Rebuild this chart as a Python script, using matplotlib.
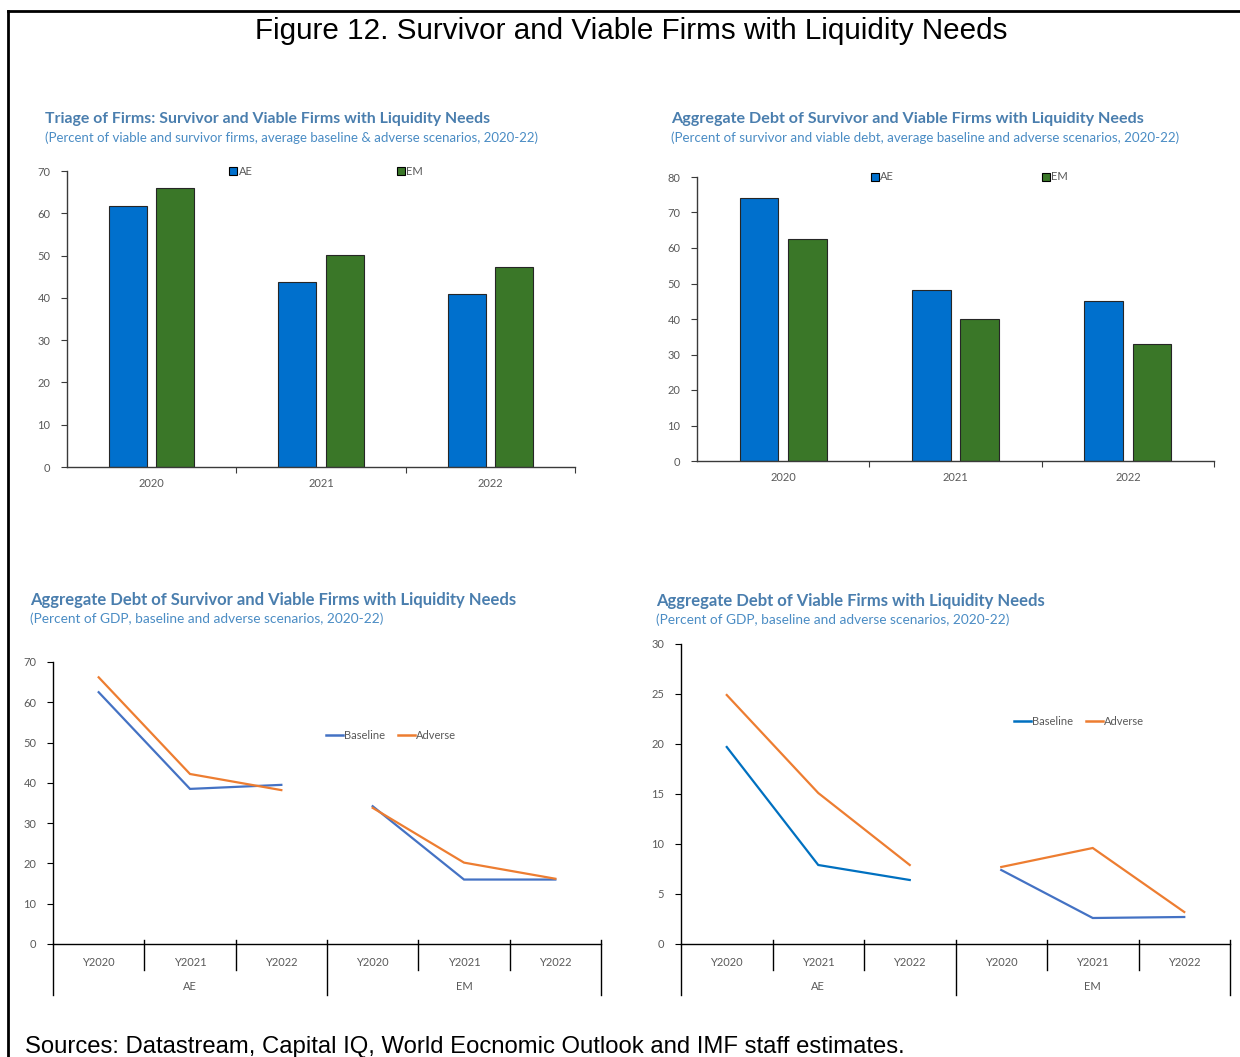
import matplotlib
matplotlib.use("Agg")
import matplotlib.pyplot as plt
import matplotlib.transforms as mtransforms
from matplotlib.patches import Patch
from matplotlib.lines import Line2D
import numpy as np

# ---------------- data ----------------
years = ["2020", "2021", "2022"]
triage_ae = [61.7, 43.8, 40.9]
triage_em = [66.0, 50.2, 47.4]
debt_share_ae = [74.0, 48.2, 45.0]
debt_share_em = [62.5, 40.0, 33.0]

groups = ["AE", "EM"]
ylabels = ["Y2020", "Y2021", "Y2022"]
sv_baseline_ae = [62.5, 38.5, 39.5]
sv_baseline_em = [34.2, 16.0, 16.0]
sv_adverse_ae = [66.2, 42.2, 38.2]
sv_adverse_em = [33.8, 20.2, 16.2]
v_baseline_ae = [19.7, 7.9, 6.4]
v_baseline_em = [7.4, 2.6, 2.7]
v_adverse_ae = [24.9, 15.1, 7.9]
v_adverse_em = [7.7, 9.6, 3.2]

# ---------------- style ----------------
W, H = 1240, 1057
BLUE = "#0070CD"
GREEN = "#3A7728"
BASE = "#4472C4"
BASE2 = "#0070C0"
ORANGE = "#ED7D31"
TITLE_C = "#4A7EAE"
SUB_C = "#4A8CC4"
TICK_C = "#595959"
SANS = ["Lato", "DejaVu Sans"]
ARIAL = ["Liberation Sans", "DejaVu Sans"]

fig = plt.figure(figsize=(W / 100, H / 100), dpi=100)
fig.patch.set_facecolor("white")


def rect(x0, y0, x1, y1):
    return [x0 / W, (H - y1) / H, (x1 - x0) / W, (y1 - y0) / H]


def px(x, y):
    return x / W, (H - y) / H


# frame
fig.add_artist(Line2D([8 / W, 1.0], [px(0, 11)[1]] * 2, color="black", lw=2))
fig.add_artist(Line2D([8 / W, 8 / W], [px(0, 11)[1], 0], color="black", lw=2))

fig.text(*px(631, 31), "Figure 12. Survivor and Viable Firms with Liquidity Needs",
         ha="center", va="center", fontsize=21.3, family=ARIAL, color="black")
fig.text(*px(25, 1047), "Sources: Datastream, Capital IQ, World Eocnomic Outlook and IMF staff estimates.",
         ha="left", va="center", fontsize=17.2, family=ARIAL, color="black")


def titles(x, y, t, s, tsize, ssize):
    fig.text(*px(x, y), t, ha="left", va="center", fontsize=tsize, fontweight="bold",
             family=SANS, color=TITLE_C)
    fig.text(*px(x, y + 19), s, ha="left", va="center", fontsize=ssize,
             family=SANS, color=SUB_C)


def style_axes(ax, spine_c="#3a3a3a"):
    for s in ["top", "right"]:
        ax.spines[s].set_visible(False)
    for s in ["left", "bottom"]:
        ax.spines[s].set_color(spine_c)
        ax.spines[s].set_linewidth(1.0)
    ax.tick_params(axis="y", direction="out", length=4, width=0.8, colors=spine_c,
                   labelcolor=TICK_C, labelsize=8, pad=8)
    for lab in ax.get_yticklabels():
        lab.set_family(SANS)


def bar_chart(r, ae, em, ymax, legx, colsp):
    ax = fig.add_axes(rect(*r))
    x = np.arange(len(years))
    w, off = 0.225, 0.14
    ax.bar(x - off, ae, w, color=BLUE, edgecolor="#262626", linewidth=0.8, label="AE")
    ax.bar(x + off, em, w, color=GREEN, edgecolor="#262626", linewidth=0.8, label="EM")
    ax.set_xlim(-0.5, len(years) - 0.5)
    ax.set_ylim(0, ymax)
    ax.set_yticks(np.arange(0, ymax + 1, 10))
    style_axes(ax)
    ax.set_xticks(np.arange(0.5, len(years)), minor=False)
    ax.set_xticklabels([])
    ax.tick_params(axis="x", direction="out", length=4, width=0.8, colors="#3a3a3a")
    ax.set_xticks(x, minor=True)
    ax.set_xticklabels(years, minor=True)
    ax.tick_params(axis="x", which="minor", length=0, labelsize=8, labelcolor=TICK_C, pad=8)
    for lab in ax.get_xticklabels(minor=True):
        lab.set_family(SANS)
    h = [Patch(facecolor=BLUE, edgecolor="black", lw=0.8),
         Patch(facecolor=GREEN, edgecolor="black", lw=0.8)]
    leg = ax.legend(h, ["AE", "EM"], loc="center", bbox_to_anchor=(legx, 1.0), ncol=2,
                    frameon=False, handlelength=0.7, handleheight=0.7,
                    handletextpad=0.15, columnspacing=colsp, prop={"family": SANS, "size": 8})
    for t in leg.get_texts():
        t.set_color(TICK_C)
    return ax


def line_chart(r, bae, bem, aae, aem, ymax, step, legpos, bcol_ae, bcol_em):
    ax = fig.add_axes(rect(*r))
    n = len(ylabels)
    xa = np.arange(n)
    xe = np.arange(n) + n
    ax.plot(xa, bae, color=bcol_ae, lw=1.6, solid_joinstyle="miter")
    ax.plot(xe, bem, color=bcol_em, lw=1.6, solid_joinstyle="miter")
    ax.plot(xa, aae, color=ORANGE, lw=1.6, solid_joinstyle="miter")
    ax.plot(xe, aem, color=ORANGE, lw=1.6, solid_joinstyle="miter")
    ax.set_xlim(-0.5, 2 * n - 0.5)
    ax.set_ylim(0, ymax)
    ax.set_yticks(np.arange(0, ymax + 1, step))
    style_axes(ax, spine_c="black")
    ax.spines["left"].set_bounds(0, ymax)
    ax.set_xticks([])
    hpx = r[3] - r[1]
    tr = mtransforms.blended_transform_factory(ax.transData, ax.transAxes)
    inner_lo = -26 / hpx
    outer_lo = -51 / hpx
    up = 4 / hpx
    for b in [0.5, 1.5, 3.5, 4.5]:
        ax.add_line(Line2D([b, b], [inner_lo, up], transform=tr, color="black", lw=1.0, clip_on=False))
    for b in [-0.5, 2.5, 5.5]:
        lo_top = 0 if b == -0.5 else up
        ax.add_line(Line2D([b, b], [outer_lo, lo_top], transform=tr, color="black", lw=1.0, clip_on=False))
    for i in range(2 * n):
        ax.text(i, -18 / hpx, ylabels[i % n], transform=tr, ha="center", va="center",
                fontsize=8, color=TICK_C, family=SANS)
    for g, gname in enumerate(groups):
        ax.text(g * n + 1, -43 / hpx, gname, transform=tr, ha="center", va="center",
                fontsize=8, color=TICK_C, family=SANS)
    h = [Line2D([], [], color=bcol_ae, lw=1.8), Line2D([], [], color=ORANGE, lw=1.8)]
    leg = ax.legend(h, ["Baseline", "Adverse"], loc="center", bbox_to_anchor=legpos, ncol=2,
                    frameon=False, handlelength=1.5, handletextpad=0.1, columnspacing=1.2,
                    prop={"family": SANS, "size": 8})
    for t in leg.get_texts():
        t.set_color(TICK_C)
    return ax


titles(45, 119, "Triage of Firms: Survivor and Viable Firms with Liquidity Needs",
       "(Percent of viable and survivor firms, average baseline & adverse scenarios, 2020-22)",
       11.4, 9.5)
bar_chart((67, 171, 575, 467), triage_ae, triage_em, 70, 0.51, 13.0)

titles(671, 119, "Aggregate Debt of Survivor and Viable Firms with Liquidity Needs",
       "(Percent of survivor and viable debt, average baseline and adverse scenarios, 2020-22)",
       11.6, 9.65)
bar_chart((697, 177, 1214, 461), debt_share_ae, debt_share_em, 80, 0.527, 13.3)

titles(30, 600, "Aggregate Debt of Survivor and Viable Firms with Liquidity Needs",
       "(Percent of GDP, baseline and adverse scenarios, 2020-22)", 12.0, 9.8)
line_chart((53, 662, 601, 944), sv_baseline_ae, sv_baseline_em, sv_adverse_ae, sv_adverse_em,
           70, 10, (0.617, 0.741), BASE, BASE)

titles(656, 601, "Aggregate Debt of Viable Firms with Liquidity Needs",
       "(Percent of GDP, baseline and adverse scenarios, 2020-22)", 12.0, 9.8)
line_chart((681, 644, 1230, 944), v_baseline_ae, v_baseline_em, v_adverse_ae, v_adverse_em,
           30, 5, (0.725, 0.743), BASE2, BASE)

fig.savefig("out.png", dpi=100, facecolor="white")
